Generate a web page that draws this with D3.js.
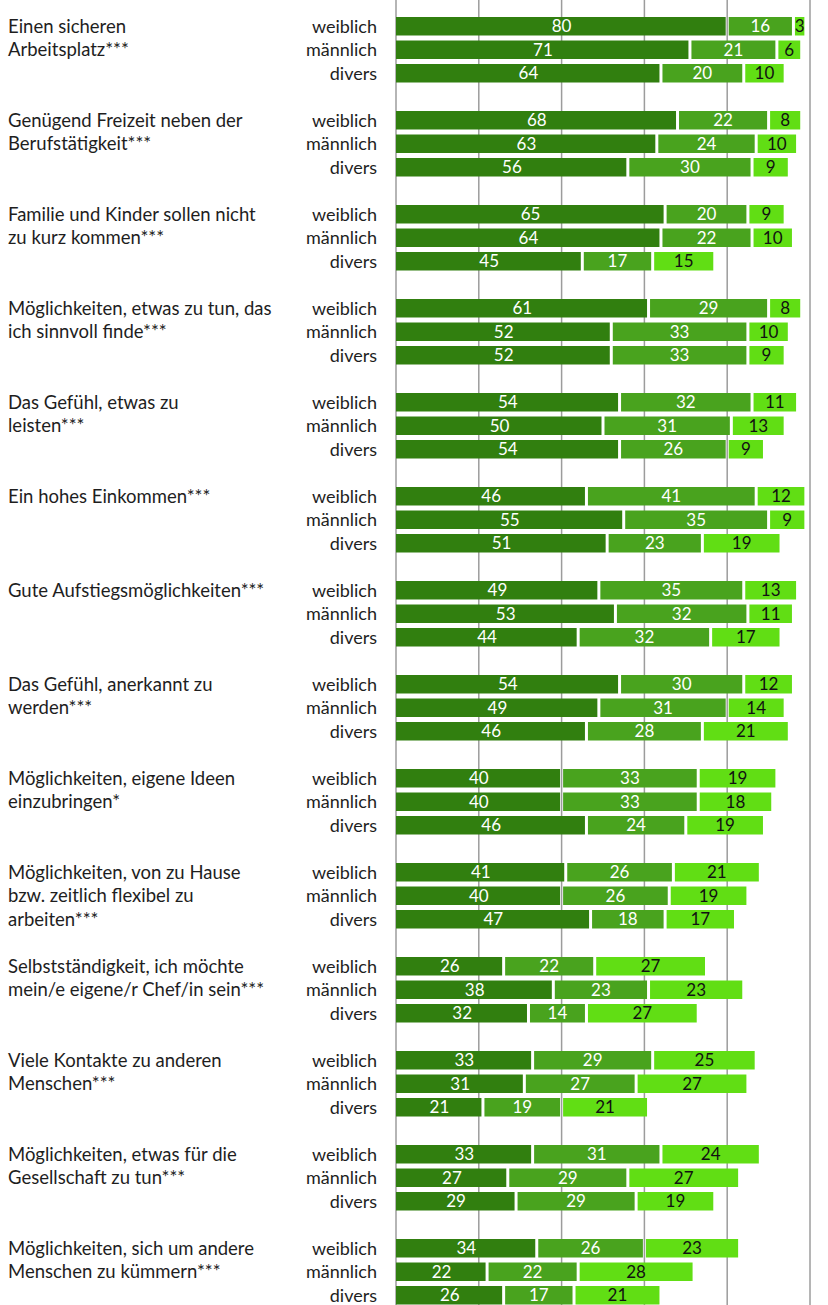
<!DOCTYPE html>
<html>
<head>
<meta charset="utf-8">
<script src="https://cdn.jsdelivr.net/npm/d3@7"></script>
<style>
  body { margin: 0; background: #fff; }
  text { font-family: Lato, "Open Sans", sans-serif; }
</style>
</head>
<body>
<svg id="chart"></svg>
<script>
var categories = [
	["Einen sicheren", "Arbeitsplatz***"],
	["Genügend Freizeit neben der", "Berufstätigkeit***"],
	["Familie und Kinder sollen nicht", "zu kurz kommen***"],
	["Möglichkeiten, etwas zu tun, das", "ich sinnvoll finde***"],
	["Das Gefühl, etwas zu", "leisten***"],
	["Ein hohes Einkommen***"],
	["Gute Aufstiegsmöglichkeiten***"],
	["Das Gefühl, anerkannt zu", "werden***"],
	["Möglichkeiten, eigene Ideen", "einzubringen*"],
	["Möglichkeiten, von zu Hause", "bzw. zeitlich flexibel zu", "arbeiten***"],
	["Selbstständigkeit, ich möchte", "mein/e eigene/r Chef/in sein***"],
	["Viele Kontakte zu anderen", "Menschen***"],
	["Möglichkeiten, etwas für die", "Gesellschaft zu tun***"],
	["Möglichkeiten, sich um andere", "Menschen zu kümmern***"]
]

var genders = ["weiblich", "männlich", "divers"]

// three stacked parts per bar, rows: weiblich, männlich, divers
var part1 = [
	[80, 71, 64], [68, 63, 56], [65, 64, 45], [61, 52, 52], [54, 50, 54],
	[46, 55, 51], [49, 53, 44], [54, 49, 46], [40, 40, 46], [41, 40, 47],
	[26, 38, 32], [33, 31, 21], [33, 27, 29], [34, 22, 26]
]
var part2 = [
	[16, 21, 20], [22, 24, 30], [20, 22, 17], [29, 33, 33], [32, 31, 26],
	[41, 35, 23], [35, 32, 32], [30, 31, 28], [33, 33, 24], [26, 26, 18],
	[22, 23, 14], [29, 27, 19], [31, 29, 29], [26, 22, 17]
]
var part3 = [
	[3, 6, 10], [8, 10, 9], [9, 10, 15], [8, 10, 9], [11, 13, 9],
	[12, 9, 19], [13, 11, 17], [12, 14, 21], [19, 18, 19], [21, 19, 17],
	[27, 23, 27], [25, 27, 21], [24, 27, 19], [23, 28, 21]
]

var gridTicks = [0, 20, 40, 60, 80, 100]

var colors = ["#317f0f", "#49a31e", "#61de14"]
var labelColors = ["#ffffff", "#ffffff", "#111111"]

var width = 828
var height = 1305

var svg = d3.select("#chart").attr("width", width).attr("height", height)

var xScale = d3.scaleLinear().domain([0, 100]).range([396, 810])

var groupScale = d3
	.scaleBand()
	.domain(d3.range(categories.length))
	.range([17, 17 + categories.length * 94])

var rowScale = d3.scaleBand().domain(genders).range([0, 65.5]).paddingInner(0.213)

// gridlines behind the bars
svg
	.selectAll(".grid")
	.data(gridTicks)
	.enter()
	.append("line")
	.attr("class", "grid")
	.attr("x1", d => xScale(d))
	.attr("x2", d => xScale(d))
	.attr("y1", 0)
	.attr("y2", height)
	.attr("stroke", "#9c9c9c")
	.attr("stroke-width", 1.5)

var rows = []
categories.forEach(function (c, i) {
	genders.forEach(function (g, j) {
		var vals = [part1[i][j], part2[i][j], part3[i][j]]
		var start = 0
		var segs = vals.map(function (v, k) {
			var s = { value: v, start: start, part: k }
			start += v
			return s
		})
		rows.push({ cat: i, gender: g, segs: segs })
	})
})

var row = svg
	.selectAll(".row")
	.data(rows)
	.enter()
	.append("g")
	.attr("class", "row")
	.attr("transform", function (d) {
		return "translate(0," + (groupScale(d.cat) + rowScale(d.gender)) + ")"
	})

var bw = rowScale.bandwidth()

var seg = row
	.selectAll(".seg")
	.data(d => d.segs)
	.enter()
	.append("g")
	.attr("class", "seg")

seg
	.append("rect")
	.attr("x", d => xScale(d.start) + (d.part > 0 ? 1.5 : 0))
	.attr("y", 0)
	.attr("width", d => xScale(d.start + d.value) - xScale(d.start) - (d.part > 0 ? 3 : 1.5))
	.attr("height", bw)
	.attr("fill", d => colors[d.part])

seg
	.append("text")
	.attr("x", d => (xScale(d.start) + xScale(d.start + d.value)) / 2)
	.attr("y", bw / 2)
	.attr("dy", "0.36em")
	.attr("text-anchor", "middle")
	.attr("font-size", 17)
	.attr("fill", d => labelColors[d.part])
	.text(d => d.value)

// gender labels
row
	.append("text")
	.attr("x", 377)
	.attr("y", bw / 2)
	.attr("dy", "0.36em")
	.attr("text-anchor", "end")
	.attr("font-size", 18)
	.attr("fill", "#1e1e1e")
	.text(d => d.gender)

// category labels, one line per row
var cat = svg
	.selectAll(".cat")
	.data(categories)
	.enter()
	.append("g")
	.attr("class", "cat")
	.attr("transform", (d, i) => "translate(8," + groupScale(i) + ")")

cat
	.selectAll("text")
	.data(d => d)
	.enter()
	.append("text")
	.attr("x", 0)
	.attr("y", (d, k) => rowScale(genders[k]) + bw / 2)
	.attr("dy", "0.36em")
	.attr("font-size", 18.5)
	.attr("fill", "#1e1e1e")
	.text(d => d)
</script>
</body>
</html>
